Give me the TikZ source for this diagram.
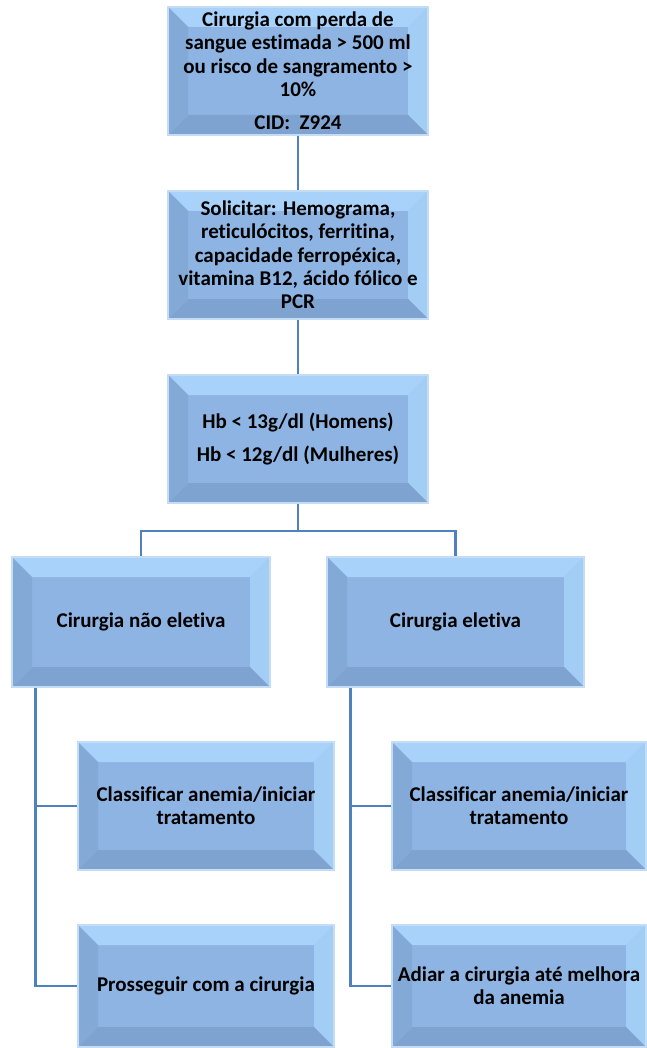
\documentclass[tikz,border=0pt]{standalone}
\usepackage{fontspec}
\setmainfont{Carlito}[Ligatures={NoCommon}]
\definecolor{bvMid}{HTML}{8DB4E2}
\definecolor{bvTop}{HTML}{A9D2FA}
\definecolor{bvRight}{HTML}{A2CEF6}
\definecolor{bvLeft}{HTML}{83A9D6}
\definecolor{bvBottom}{HTML}{7EA3D0}
\definecolor{bvEdge}{HTML}{C5DDF4}
\definecolor{conn}{HTML}{4F81BD}
\tikzset{
  bevelbox/.style 2 args={rectangle, minimum width=#1, minimum height=#2, inner sep=0pt,
    align=center, text=black, font=\bfseries\fontsize{21}{23.3}\selectfont,
    fill=bvMid, draw=bvEdge, line width=1.5pt,
    path picture={
      \path (path picture bounding box.south west) coordinate (SW)
            (path picture bounding box.north east) coordinate (NE)
            (path picture bounding box.north west) coordinate (NW)
            (path picture bounding box.south east) coordinate (SE);
      \fill[bvTop] (NW) -- (NE) -- ([shift={(-20pt,-20pt)}]NE) -- ([shift={(20pt,-20pt)}]NW) -- cycle;
      \fill[bvRight] (NE) -- (SE) -- ([shift={(-20pt,20pt)}]SE) -- ([shift={(-20pt,-20pt)}]NE) -- cycle;
      \fill[bvBottom] (SE) -- (SW) -- ([shift={(20pt,20pt)}]SW) -- ([shift={(-20pt,20pt)}]SE) -- cycle;
      \fill[bvLeft] (SW) -- (NW) -- ([shift={(20pt,-20pt)}]NW) -- ([shift={(20pt,20pt)}]SW) -- cycle;
    }},
  connector/.style={draw=conn, line width=2.6pt}
}
\begin{document}
\begin{tikzpicture}[x=1pt, y=-1pt]
\useasboundingbox (0,0) rectangle (646,1048);
\node[bevelbox={260pt}{128pt}] (b1) at (298,71) {Cirurgia com perda de\\sangue estimada > 500 ml\\ou risco de sangramento >\\10\%\\[10pt]CID:\ \ Z924};
\node[bevelbox={260pt}{128pt}] (b2) at (298,255) {Solicitar: Hemograma,\\reticulócitos, ferritina,\\capacidade ferropéxica,\\vitamina B12, ácido fólico e\\PCR};
\node[bevelbox={260pt}{128pt}] (b3) at (298,439) {Hb < 13g/dl (Homens)\\[10pt]Hb < 12g/dl (Mulheres)};
\node[bevelbox={258pt}{130pt}] (b4) at (141,622) {Cirurgia não eletiva};
\node[bevelbox={257pt}{130pt}] (b5) at (455.5,622) {Cirurgia eletiva};
\node[bevelbox={256pt}{128pt}] (b6) at (206,806) {Classificar anemia/iniciar\\tratamento};
\node[bevelbox={254pt}{128pt}] (b7) at (519,806) {Classificar anemia/iniciar\\tratamento};
\node[bevelbox={256pt}{122pt}] (b8) at (206,986) {Prosseguir com a cirurgia};
\node[bevelbox={254pt}{122pt}] (b9) at (519,986) {Adiar a cirurgia até melhora\\da anemia};
\coordinate (j) at (298,531);
\coordinate (lt) at ([xshift=24pt]b4.south west);
\coordinate (rt) at ([xshift=24pt]b5.south west);
\draw[connector] (b1.south) -- (b2.north);
\draw[connector] (b2.south) -- (b3.north);
\draw[connector] (b3.south) -- (j);
\draw[connector] (b4.north) |- (j) -| (b5.north);
\draw[connector] (lt) |- (b6.west);
\draw[connector] (lt) |- (b8.west);
\draw[connector] (rt) |- (b7.west);
\draw[connector] (rt) |- (b9.west);
\end{tikzpicture}
\end{document}
